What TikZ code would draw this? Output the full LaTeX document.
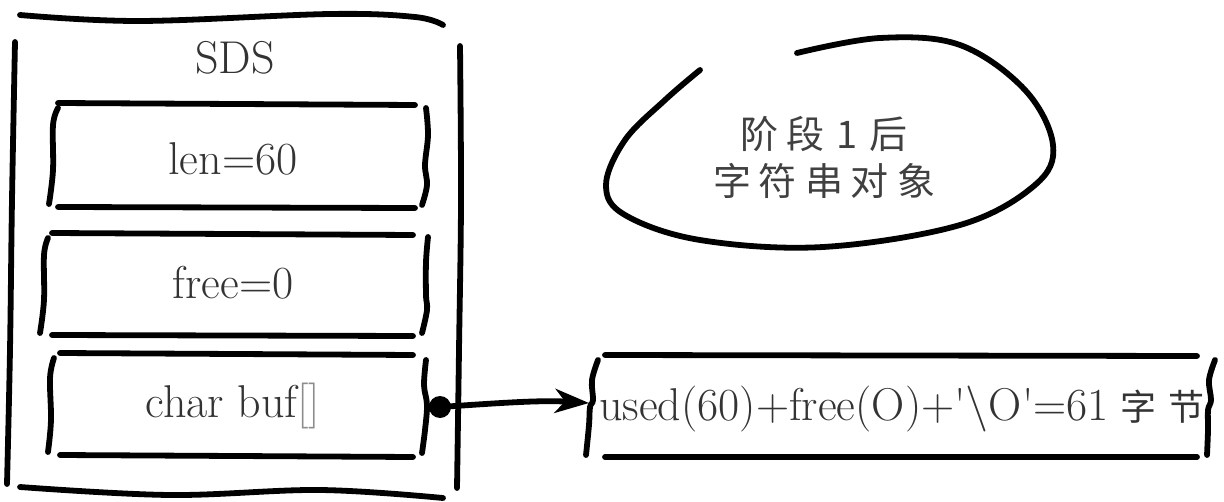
\documentclass[tikz,border=0pt]{standalone}
\usepackage{fontspec}
\newfontfamily\cjk{Noto Sans CJK SC}
\usetikzlibrary{arrows.meta}
\tikzset{
  ink/.style={line width=2.9pt, line cap=round, line join=round, black},
  lbl/.style={inner sep=0pt, anchor=base, text=black!80, font=\fontsize{23}{27}\selectfont},
  dotnode/.style={circle, fill=black, inner sep=0pt, minimum size=11pt},
}
\begin{document}
\begin{tikzpicture}[x=0.5pt,y=-0.5pt]
\useasboundingbox (0,0) rectangle (1224,502);
% outer SDS box
\draw[ink] plot[smooth,tension=0.6] coordinates {(20,15) (140,21) (330,14) (415,17) (443,25)};
\draw[ink] plot[smooth,tension=0.6] coordinates {(15,42) (12,200) (10,350) (7,484)};
\draw[ink] plot[smooth,tension=0.6] coordinates {(460,46) (461,200) (459,350) (457,488)};
\draw[ink] plot[smooth,tension=0.6] coordinates {(20,487) (170,495) (320,490) (443,498)};
\node[lbl] (sds) at (235,74) {SDS};
% box 1
\draw[ink] (58,103) -- (415,105);
\draw[ink] (58,207) -- (415,208);
\draw[ink] plot[smooth,tension=0.6] coordinates {(58,108) (53,125) (53,170) (49,204)};
\draw[ink] plot[smooth,tension=0.6] coordinates {(426,108) (428,135) (425,165) (427,185) (422,205)};
\node[lbl] (len) at (233,175) {len=60};
% box 2
\draw[ink] (52,233) -- (413,235);
\draw[ink] (52,335) -- (413,336);
\draw[ink] plot[smooth,tension=0.6] coordinates {(48,238) (44,255) (44,300) (40,333)};
\draw[ink] plot[smooth,tension=0.6] coordinates {(428,237) (426,262) (426,295) (427,310) (422,333)};
\node[lbl] (free) at (233,298) {free=0};
% box 3
\draw[ink] (60,353) -- (413,355);
\draw[ink] (60,455) -- (413,457);
\draw[ink] plot[smooth,tension=0.6] coordinates {(54,358) (50,378) (51,420) (48,452)};
\draw[ink] plot[smooth,tension=0.6] coordinates {(426,360) (424,385) (427,405) (425,430) (422,453)};
\node[lbl] (buf) at (233,417) {char buf{\color{black!45}[]}};
% pointer dot and arrow
\node[dotnode] (dot) at (440,407) {};
\coordinate (tip) at (589,403);
\draw[ink, -{Stealth[length=17pt,width=12pt,inset=5pt]}] (dot.center) .. controls (500,403) and (540,400) .. (tip);
% right box (buffer)
\draw[ink] (605,355) -- (1197,356);
\draw[ink] (605,457) -- (1197,457);
\draw[ink] plot[smooth,tension=0.6] coordinates {(598,360) (592,380) (593,400) (590,407) (589,425) (586,455)};
\draw[ink] plot[smooth,tension=0.6] coordinates {(1215,360) (1209,380) (1211,400) (1208,410) (1208,430) (1207,455)};
\node[lbl] (ext) at (902,420) {used(60)+free(O)+\textquotesingle\textbackslash O\textquotesingle=61\hspace{6pt}{\cjk\fontsize{18}{20}\selectfont 字\hspace{6pt}节}};
% blob
\draw[ink] plot[smooth,tension=0.6] coordinates {(797,53) (880,38) (960,45) (1025,90) (1053,145) (1035,185) (960,225) (823,247) (700,240) (625,215) (606,185) (625,140) (665,100) (700,70)};
\node[inner sep=0pt, align=center, text=black!75, font=\cjk\fontsize{19}{23.5}\selectfont] (title) at (824,157) {阶\hspace{4pt}段\hspace{6pt}1\hspace{6pt}后\\字\hspace{4pt}符\hspace{4pt}串\hspace{4pt}对\hspace{4pt}象};
\end{tikzpicture}
\end{document}
